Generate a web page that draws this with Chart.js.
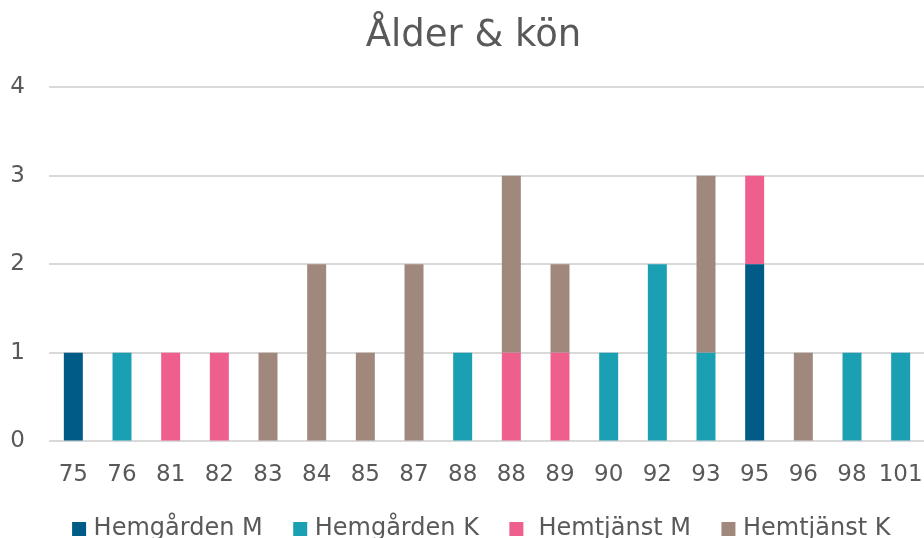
<!DOCTYPE html>
<html><head><meta charset="utf-8">
<script src="https://cdn.jsdelivr.net/npm/chart.js@4/dist/chart.umd.min.js"></script>
<style>html,body{margin:0;padding:0;overflow:hidden;background:#fff;width:924px;height:538px}
#wrap{width:946px;height:578px;position:relative}</style>
</head><body><div id="wrap"><canvas id="c"></canvas></div>
<script>
const ages = ["75","76","81","82","83","84","85","87","88","88","89","90","92","93","95","96","98","101"];
const hemgardenM = [1,null,null,null,null,null,null,null,null,null,null,null,null,null,2,null,null,null];
const hemgardenK = [null,1,null,null,null,null,null,null,1,null,null,1,2,1,null,null,1,1];
const hemtjanstM = [null,null,1,1,null,null,null,null,null,1,1,null,null,null,1,null,null,null];
const hemtjanstK = [null,null,null,null,1,2,1,2,null,2,1,null,null,2,null,1,null,null];
const seriesNames = ["Hemgården M","Hemgården K"," Hemtjänst M","Hemtjänst K"];
const colors = ["#005B86","#1B9FB3","#EF5F8D","#A1887D"];
const yTicks = [0,1,2,3,4];
const chartTitle = "Ålder & kön";

const grey = "#595959";
const shiftPlugin = {
  id: 'shiftBoxes',
  afterLayout(chart) {
    if (chart.legend) { chart.legend.left += 21; chart.legend.right += 21; chart.legend.top -= 27; chart.legend.bottom -= 27; }
    if (chart.titleBlock) { chart.titleBlock.left += 11; chart.titleBlock.right += 11; }
  }
};
new Chart(document.getElementById('c'), {
  type: 'bar',
  plugins: [shiftPlugin],
  data: {
    labels: ages,
    datasets: [hemgardenM, hemgardenK, hemtjanstM, hemtjanstK].map((d,i)=>({
      label: seriesNames[i], data: d, backgroundColor: colors[i],
      barPercentage: 0.39, categoryPercentage: 1.0, borderWidth: 0
    }))
  },
  options: {
    responsive: true, maintainAspectRatio: false, animation: false,
    layout: { padding: { left: 0, right: 21, top: 8, bottom: 0 } },
    plugins: {
      title: { display: true, text: chartTitle, color: grey,
        font: { family: "'DejaVu Sans'", size: 37, weight: 'normal' },
        padding: { top: 6.4, bottom: 28.4 } },
      legend: { position: 'bottom',
        labels: { color: grey, usePointStyle: true, pointStyle: 'rect', boxWidth: 5, boxHeight: 14, padding: 35,
          font: { family: "'DejaVu Sans'", size: 24 } } },
      tooltip: { enabled: false }
    },
    scales: {
      x: { stacked: true,
        grid: { display: false, drawTicks: false },
        border: { display: false },
        ticks: { color: grey, padding: 20, font: { family: "'DejaVu Sans'", size: 23 }, autoSkip: false, maxRotation: 0 } },
      y: { stacked: true, min: 0, max: 4,
        afterBuildTicks: s => { s.ticks = yTicks.map(v=>({value:v})); },
        afterFit: s => { s.width = 49; },
        grid: { color: "#D9D9D9", lineWidth: 2, drawTicks: false },
        border: { display: false },
        ticks: { color: grey, padding: 24, font: { family: "'DejaVu Sans'", size: 23 } } }
    }
  }
});
</script></body></html>
